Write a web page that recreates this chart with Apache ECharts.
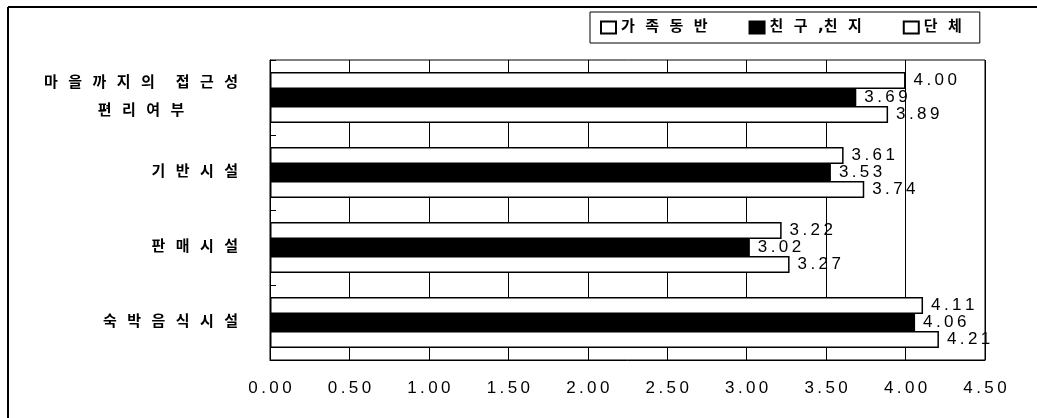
<!DOCTYPE html>
<html>
<head>
<meta charset="utf-8">
<script src="https://cdn.jsdelivr.net/npm/echarts@6/dist/echarts.min.js"></script>
<style>
  html, body { margin: 0; padding: 0; background: #fff; }
  #chart { width: 1037px; height: 418px; }
</style>
</head>
<body>
<div id="chart"></div>
<script>
// ---- data ----
const categories = ['마을까지의 접근성\n편리여부', '기반시설', '판매시설', '숙박음식시설'];
const seriesNames = ['가족동반', '친구,친지', '단체'];
const familyValues = [4.00, 3.61, 3.22, 4.11];
const friendValues = [3.69, 3.53, 3.02, 4.06];
const groupValues = [3.89, 3.74, 3.27, 4.21];
const xMin = 0, xMax = 4.5, xStep = 0.5;

// ---- helpers ----
const GAP = '  ';
function spaceKo(str) {
  return str.split(' ').map(w => {
    let out = '';
    const ch = w.split('');
    ch.forEach((c, i) => {
      out += c;
      if (i < ch.length - 1 && c !== ',') out += GAP;
    });
    return out;
  }).join(GAP + GAP);
}
function spaceNum(v) {
  return v.toFixed(2).split('').join('\u2009');
}

const koFont = '"DejaVu Sans", "Noto Sans CJK KR", sans-serif';
const numFont = '"Liberation Sans", Arial, sans-serif';

const chart = echarts.init(document.getElementById('chart'), null, { renderer: 'canvas' });

function barSeries(name, data, fill) {
  return {
    name: name,
    type: 'bar',
    data: data,
    barWidth: 17,
    barGap: '0%',
    itemStyle: { color: fill, borderColor: '#000', borderWidth: 1.5 },
    label: {
      show: true,
      position: 'right',
      distance: 8,
      color: '#000',
      fontSize: 17,
      fontFamily: numFont,
      formatter: p => spaceNum(p.value)
    },
    emphasis: { disabled: true }
  };
}

chart.setOption({
  animation: false,
  backgroundColor: '#fff',
  graphic: [
    { type: 'line', shape: { x1: 8, y1: 7, x2: 1037, y2: 7 }, style: { stroke: '#000', lineWidth: 2 } },
    { type: 'line', shape: { x1: 8, y1: 7, x2: 8, y2: 418 }, style: { stroke: '#000', lineWidth: 2 } }
  ],
  legend: {
    left: 590,
    top: 12,
    orient: 'horizontal',
    padding: [8, 18, 8, 10],
    itemGap: 41,
    itemWidth: 15,
    itemHeight: 12,
    icon: 'rect',
    borderColor: '#000',
    borderWidth: 1,
    data: seriesNames,
    formatter: name => spaceKo(name),
    textStyle: { fontSize: 15, fontFamily: koFont, fontWeight: 'bold', color: '#000' }
  },
  grid: {
    left: 270, right: 52, top: 60, bottom: 58,
    show: true, borderColor: '#000', borderWidth: 1, backgroundColor: 'transparent'
  },
  xAxis: {
    type: 'value',
    min: xMin, max: xMax, interval: xStep,
    axisLine: { show: true, lineStyle: { color: '#000' } },
    axisTick: { show: false },
    splitLine: { show: true, lineStyle: { color: '#000', width: 1 } },
    axisLabel: {
      margin: 20,
      color: '#000',
      fontSize: 17,
      fontFamily: numFont,
      formatter: v => spaceNum(v)
    }
  },
  yAxis: {
    type: 'category',
    inverse: true,
    data: categories,
    axisLine: { show: true, lineStyle: { color: '#000' } },
    axisTick: { show: true, inside: true, length: 6, lineStyle: { color: '#000' } },
    axisLabel: {
      margin: 32,
      color: '#000',
      formatter: v => v.split('\n').map(l => '{c|' + spaceKo(l) + '}').join('\n'),
      rich: {
        c: { align: 'center', fontSize: 15, lineHeight: 28, fontFamily: koFont, fontWeight: 'bold', color: '#000' }
      }
    }
  },
  series: [
    barSeries(seriesNames[0], familyValues, '#fff'),
    barSeries(seriesNames[1], friendValues, '#000'),
    barSeries(seriesNames[2], groupValues, '#fff')
  ]
});
</script>
</body>
</html>
